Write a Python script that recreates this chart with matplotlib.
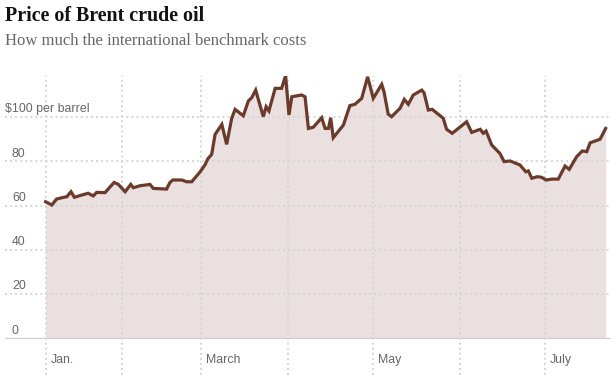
import matplotlib

matplotlib.use("Agg")
from matplotlib import pyplot as plt  # noqa: E402

# days since Jan. 1 and Brent price
days = [
    4.0, 6.2, 7.9, 10.5, 11.5, 13.0, 14.2, 16.8, 19.1, 20.9, 22.1, 25.1, 26.6,
    28.3, 29.8, 32.2, 34.2, 35.1, 37.5, 41.0, 42.2, 46.9, 48.1, 49.1, 52.3,
    54.0, 55.8, 58.8, 60.5, 61.5, 62.9, 64.1, 66.5, 68.2, 70.0, 71.2, 74.1,
    75.9, 77.1, 78.5, 81.2, 82.2, 83.2, 85.4, 87.7, 89.1, 90.3, 91.3, 94.8,
    96.0, 97.2, 98.9, 101.9, 103.1, 104.3, 105.1, 106.0, 109.6, 111.9, 113.7,
    116.1, 118.2, 120.2, 123.2, 124.0, 125.5, 126.7, 129.7, 131.2, 132.6,
    134.4, 137.4, 138.2, 139.7, 141.1, 145.0, 146.2, 148.2, 153.3, 155.1,
    158.1, 159.2, 160.2, 162.2, 165.1, 166.6, 168.7, 172.2, 174.3, 175.2,
    176.4, 178.5, 179.9, 181.5, 183.5, 185.8, 188.2, 189.7, 192.3, 194.3,
    195.9, 197.1, 200.6, 201.4, 202.6,
]
prices = [
    61.8, 60.3, 63.0, 63.8, 64.0, 66.3, 63.8, 64.8, 65.6, 64.4, 66.0, 65.9,
    68.1, 70.5, 69.6, 66.3, 69.6, 68.1, 69.0, 69.6, 67.8, 67.5, 70.5, 71.6,
    71.6, 70.8, 70.8, 75.3, 78.4, 81.1, 83.2, 92.2, 96.7, 87.7, 99.5, 103.5,
    100.6, 107.3, 108.8, 112.2, 100.2, 104.7, 102.8, 113.0, 113.0, 118.7,
    101.0, 109.2, 110.0, 109.2, 94.9, 95.4, 99.7, 94.9, 94.9, 99.7, 90.7,
    96.4, 105.2, 105.8, 108.5, 118.2, 108.5, 114.8, 111.5, 101.3, 100.2,
    104.0, 108.0, 105.8, 110.0, 112.2, 111.0, 103.2, 103.5, 99.5, 94.5, 92.7,
    97.9, 93.1, 94.5, 92.7, 93.7, 87.4, 83.6, 79.9, 80.2, 78.4, 75.3, 75.7,
    72.4, 73.1, 72.8, 71.6, 72.0, 72.0, 77.9, 76.4, 82.1, 84.7, 84.4, 88.4,
    90.0, 91.9, 94.9,
]

y_ticks = [0, 20, 40, 60, 80, 100]
y_labels = ["0", "20", "40", "60", "80", "$100 per barrel"]
month_days = [4, 31, 59, 90, 120, 151, 181]
month_labels = {4: "Jan.", 59: "March", 120: "May", 181: "July"}

LINE = "#6b3a2b"
FILL = "#e9e0df"
GRID = "#d6d6d6"
LABEL = "#666666"
SANS = "Liberation Sans"
SERIF = "Liberation Serif"
DOTS = (0, (1.0, 1.6))

fig = plt.figure(figsize=(6.11, 3.75), dpi=100)
ax = fig.add_axes((5 / 611, 36.5 / 375, 606 / 611, 263 / 375))
ax.set_xlim(-10.4, 204.5)
ax.set_ylim(0, 118.8)
ax.axis("off")

ax.fill_between(days, prices, 0, color=FILL, lw=0, zorder=1)

for value in y_ticks[1:]:
    ax.axhline(value, color=GRID, lw=1.4, ls=DOTS, zorder=2)
ax.axhline(0, color="#cccccc", lw=1.6, zorder=2)

for day in month_days:
    ax.axvline(day, ymin=-0.14, ymax=1, color=GRID, lw=1.4, ls=DOTS,
               clip_on=False, zorder=2)

ax.plot(days, prices, color=LINE, lw=2.3, solid_joinstyle="miter", zorder=3)

for value, label in zip(y_ticks, y_labels):
    x = 0.0 if label.startswith("$") else 7 / 606
    ax.text(x, value + 3.5, label, transform=ax.get_yaxis_transform(),
            ha="left", va="center", fontsize=8.9, color=LABEL, family=SANS)

for day, label in month_labels.items():
    ax.text(day + 1.8, -0.082, label, transform=ax.get_xaxis_transform(),
            ha="left", va="center", fontsize=8.9, color=LABEL, family=SANS)

fig.text(5 / 611, 1 - 21 / 375, "Price of Brent crude oil", ha="left",
         va="baseline", fontsize=14.4, fontweight="bold", color="#121212",
         family=SERIF)
fig.text(5 / 611, 1 - 45 / 375, "How much the international benchmark costs",
         ha="left", va="baseline", fontsize=12, color="#666666", family=SERIF)

fig.savefig("out.png", dpi=100)
plt.close(fig)
